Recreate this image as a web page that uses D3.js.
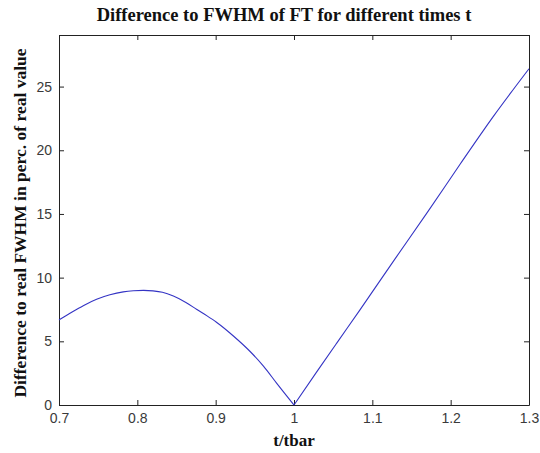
<!DOCTYPE html>
<html>
<head>
<meta charset="utf-8">
<script src="https://cdn.jsdelivr.net/npm/d3@7"></script>
<style>
html, body { margin: 0; padding: 0; background: #fff; }
svg { display: block; }
</style>
</head>
<body>
<svg id="chart" width="540" height="453"></svg>
<script>
const tValues = [0.70, 0.714, 0.731, 0.748, 0.765, 0.782, 0.795, 0.808, 0.82, 0.832, 0.846, 0.862, 0.876, 0.889, 0.901, 0.923, 0.944, 0.961, 0.978, 1.0, 1.029, 1.055, 1.084, 1.127, 1.170, 1.212, 1.255, 1.30];
const diffValues = [6.68, 7.2, 7.8, 8.3, 8.65, 8.88, 8.97, 9.0, 8.96, 8.85, 8.55, 8.05, 7.5, 7.0, 6.5, 5.4, 4.2, 3.05, 1.7, 0.0, 2.6, 4.9, 7.45, 11.3, 15.1, 18.9, 22.7, 26.4];
const xTicks = [0.7, 0.8, 0.9, 1.0, 1.1, 1.2, 1.3];
const xTickLabels = ["0.7", "0.8", "0.9", "1", "1.1", "1.2", "1.3"];
const yTicks = [0, 5, 10, 15, 20, 25];
const titleText = "Difference to FWHM of FT for different times t";
const xLabelText = "t/tbar";
const yLabelText = "Difference to real FWHM in perc. of real value";

const svg = d3.select("#chart");
const pLeft = 59, pRight = 529, pTop = 35, pBottom = 405;
const x = d3.scaleLinear().domain([0.7, 1.3]).range([pLeft, pRight]);
const y = d3.scaleLinear().domain([0, 29.05]).range([pBottom, pTop]);

const tickFont = "'Liberation Sans', Arial, sans-serif";
const serif = "'Liberation Serif', 'Times New Roman', serif";

const tickLen = 5;
const xAxisB = d3.axisBottom(x).tickValues(xTicks).tickSizeInner(-tickLen).tickSizeOuter(0)
  .tickPadding(8).tickFormat((d, i) => xTickLabels[i]);
const xAxisT = d3.axisTop(x).tickValues(xTicks).tickSizeInner(-tickLen).tickSizeOuter(0).tickFormat("");
const yAxisL = d3.axisLeft(y).tickValues(yTicks).tickSizeInner(-tickLen).tickSizeOuter(0).tickPadding(7);
const yAxisR = d3.axisRight(y).tickValues(yTicks).tickSizeInner(-tickLen).tickSizeOuter(0).tickFormat("");

function style(g) {
  g.selectAll("path.domain").attr("stroke", "#222").attr("stroke-width", 1);
  g.selectAll(".tick line").attr("stroke", "#222").attr("stroke-width", 1);
  g.selectAll(".tick text").attr("fill", "#3a3a3a").style("font-family", tickFont).style("font-size", "14px");
}
svg.append("g").attr("transform", `translate(0,${pBottom})`).call(xAxisB).call(style);
svg.append("g").attr("transform", `translate(0,${pTop})`).call(xAxisT).call(style);
svg.append("g").attr("transform", `translate(${pLeft},0)`).call(yAxisL).call(style);
svg.append("g").attr("transform", `translate(${pRight},0)`).call(yAxisR).call(style);

// split the series at its minimum so the cusp stays sharp while each branch is smooth
const data = tValues.map((t, i) => [t, diffValues[i]]);
const iMin = d3.minIndex(diffValues);
const branches = [data.slice(0, iMin + 1), data.slice(iMin)];
const line = d3.line().x(d => x(d[0])).y(d => y(d[1])).curve(d3.curveMonotoneX);
svg.selectAll("path.series")
  .data(branches)
  .join("path")
  .attr("class", "series")
  .attr("fill", "none")
  .attr("stroke", "#3434c4")
  .attr("stroke-width", 1.1)
  .attr("d", line);

svg.append("text")
  .attr("x", (pLeft + pRight) / 2 - 10).attr("y", 21)
  .attr("text-anchor", "middle")
  .style("font-family", serif).style("font-weight", "bold").style("font-size", "18.5px")
  .attr("fill", "#111")
  .text(titleText);

svg.append("text")
  .attr("x", (pLeft + pRight) / 2).attr("y", 446)
  .attr("text-anchor", "middle")
  .style("font-family", serif).style("font-weight", "bold").style("font-size", "17px")
  .attr("fill", "#111")
  .text(xLabelText);

svg.append("text")
  .attr("transform", `translate(26,${(pTop + pBottom) / 2 + 3}) rotate(-90)`)
  .attr("text-anchor", "middle")
  .style("font-family", serif).style("font-weight", "bold").style("font-size", "17.5px")
  .attr("fill", "#111")
  .text(yLabelText);
</script>
</body>
</html>
